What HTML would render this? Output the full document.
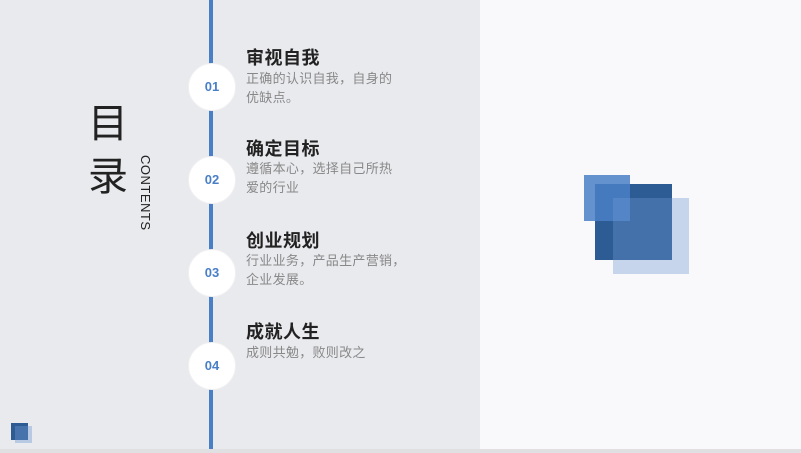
<!DOCTYPE html>
<html><head><meta charset="utf-8"><style>
body{margin:0;width:801px;height:453px;overflow:hidden;background:#f9f9fb;font-family:"Liberation Sans","Noto Sans CJK SC",sans-serif;position:relative}
.l{position:absolute;left:0;top:0;width:480px;height:449px;background:#e9eaee}
.bot{position:absolute;left:0;top:449px;width:801px;height:4px;background:#e0e0e2}
.line{position:absolute;left:209px;top:0;width:4px;height:449px;background:#4a7fc7}
.c{position:absolute;left:188px;width:46px;height:46px;border-radius:50%;background:#fff;border:1px solid #f0f0f2;color:#4a7fc7;font-size:13px;font-weight:bold;text-align:center;line-height:46px}
.t{position:absolute;left:246px;font-size:18px;font-weight:bold;color:#222;line-height:20px;letter-spacing:0.5px}
.d{position:absolute;left:246px;font-size:13px;color:#888;line-height:19px;width:175px;letter-spacing:0.3px}
.big{position:absolute;left:88px;font-size:40px;color:#222;line-height:40px}
.sq{position:absolute}
</style></head><body>
<div class="l"></div><div class="bot"></div>
<div class="line"></div>
<div class="big" style="top:104px">目</div>
<div class="big" style="top:157px">录</div>
<div style="position:absolute;left:146px;top:155px;transform-origin:0 0;transform:translate(-6px,0) rotate(90deg) translate(0,-12px);font-size:13px;color:#222;letter-spacing:0.5px;white-space:nowrap;line-height:13px">CONTENTS</div>

<div class="c" style="top:63px">01</div>
<div class="t" style="top:48px">审视自我</div>
<div class="d" style="top:69px">正确的认识自我，自身的<br>优缺点。</div>

<div class="c" style="top:156px">02</div>
<div class="t" style="top:139px">确定目标</div>
<div class="d" style="top:159px">遵循本心，选择自己所热<br>爱的行业</div>

<div class="c" style="top:249px">03</div>
<div class="t" style="top:231px">创业规划</div>
<div class="d" style="top:251px">行业业务，产品生产营销，<br>企业发展。</div>

<div class="c" style="top:342px">04</div>
<div class="t" style="top:322px">成就人生</div>
<div class="d" style="top:343px">成则共勉，败则改之</div>

<div class="sq" style="left:595px;top:184px;width:77px;height:76px;background:#2d5b94"></div>
<div class="sq" style="left:584px;top:175px;width:46px;height:46px;background:rgba(74,128,198,0.85)"></div>
<div class="sq" style="left:613px;top:198px;width:76px;height:76px;background:rgba(110,152,211,0.37)"></div>

<div class="sq" style="left:11px;top:423px;width:17px;height:17px;background:#2d5b94"></div>
<div class="sq" style="left:15px;top:426px;width:17px;height:17px;background:rgba(110,152,211,0.4)"></div>
</body></html>
